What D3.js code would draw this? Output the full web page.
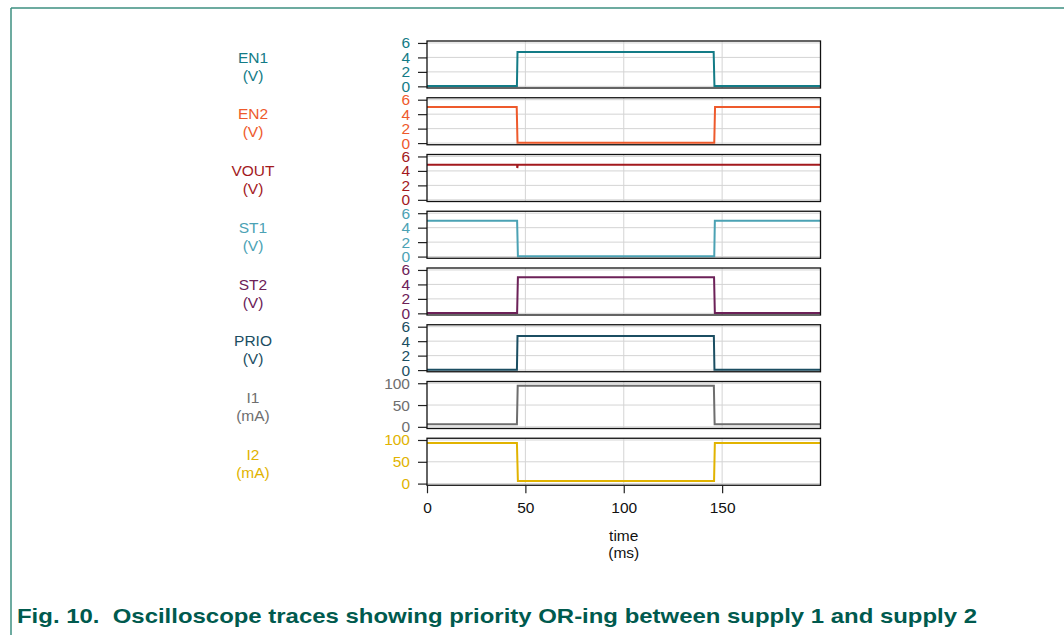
<!DOCTYPE html>
<html>
<head>
<meta charset="utf-8">
<script src="https://cdn.jsdelivr.net/npm/d3@7"></script>
<style>
  body { margin: 0; background: #fff; }
  text { font-family: "Liberation Sans", Arial, sans-serif; }
</style>
</head>
<body>
<div id="chart-area"></div>
<script>
// channel names, units, colours
const names = ["EN1", "EN2", "VOUT", "ST1", "ST2", "PRIO", "I1", "I2"];
const units = ["(V)", "(V)", "(V)", "(V)", "(V)", "(V)", "(mA)", "(mA)"];
const colors = ["#137b86", "#ee5a2c", "#a3191d", "#4ba2b4", "#6c2158", "#1b4e62", "#6e6e6e", "#e1b300"];

// time ticks (ms)
const timeTicks = [0, 50, 100, 150];
const voltTicks = [0, 2, 4, 6];
const ampTicks = [0, 50, 100];

// traces: [time ms, value]
const en1 = [[0, 0.05], [45.7, 0.05], [46.0, 4.75], [145.7, 4.75], [146.1, 0.05], [200, 0.05]];
const en2 = [[0, 5.0], [45.6, 5.0], [46.0, 0.05], [146.0, 0.05], [146.4, 5.0], [200, 5.0]];
const vout = [[0, 4.85], [45.8, 4.85], [45.9, 4.4], [46.1, 4.85], [200, 4.85]];
const st1 = [[0, 4.95], [45.8, 4.95], [46.2, 0.05], [146.0, 0.05], [146.3, 4.95], [200, 4.95]];
const st2 = [[0, 0.05], [45.8, 0.05], [46.2, 4.98], [145.9, 4.98], [146.3, 0.05], [200, 0.05]];
const prio = [[0, 0.05], [45.7, 0.05], [46.0, 4.7], [145.8, 4.7], [146.1, 0.05], [200, 0.05]];
const i1 = [[0, 6], [45.7, 6], [46.1, 94], [145.8, 94], [146.2, 6], [200, 6]];
const i2 = [[0, 93], [45.7, 93], [46.2, 6], [145.9, 6], [146.3, 93], [200, 93]];

const traces = [en1, en2, vout, st1, st2, prio, i1, i2];

const W = 1064, H = 635;
const plotLeft = 427, plotRight = 820.5;
const panelTop = 41, panelStep = 56.75, panelH = 47;
const fs = "15.5px";

const svg = d3.select("#chart-area").append("svg")
  .attr("width", W)
  .attr("height", H);

// frame lines
svg.append("line")
  .attr("x1", 11).attr("x2", W).attr("y1", 8).attr("y2", 8)
  .attr("stroke", "#3d8f80").attr("stroke-width", 1.5);
svg.append("line")
  .attr("x1", 11).attr("x2", 11).attr("y1", 8).attr("y2", H)
  .attr("stroke", "#3d8f80").attr("stroke-width", 1.5);

const x = d3.scaleLinear()
  .domain([0, 200])
  .range([plotLeft, plotRight]);

traces.forEach((data, i) => {
  const top = panelTop + i * panelStep;
  const isAmp = i >= 6;
  const ticks = isAmp ? ampTicks : voltTicks;
  const y = d3.scaleLinear()
    .domain(isAmp ? [-3.8, 104] : [-0.23, 6.27])
    .range([top + panelH, top]);

  const g = svg.append("g");

  // grid
  g.selectAll(".hgrid").data(ticks).enter().append("line")
    .attr("x1", plotLeft).attr("x2", plotRight)
    .attr("y1", d => y(d)).attr("y2", d => y(d))
    .attr("stroke", "#d4d4d4").attr("stroke-width", 1);
  g.selectAll(".vgrid").data(timeTicks.slice(1)).enter().append("line")
    .attr("x1", d => x(d)).attr("x2", d => x(d))
    .attr("y1", top).attr("y2", top + panelH)
    .attr("stroke", "#d4d4d4").attr("stroke-width", 1);

  // y axis
  const ax = g.append("g")
    .attr("transform", `translate(${plotLeft},0)`)
    .call(d3.axisLeft(y).tickValues(ticks).tickFormat(d3.format("d")).tickSize(9).tickPadding(8));
  ax.select(".domain").remove();
  ax.selectAll(".tick line").attr("stroke", "#222").attr("stroke-width", 1.2);
  ax.selectAll(".tick text")
    .attr("fill", colors[i])
    .attr("font-size", fs)
    .attr("font-family", "Liberation Sans, Arial, sans-serif");

  // trace
  const line = d3.line().x(d => x(d[0])).y(d => y(d[1]));
  g.append("path")
    .datum(data)
    .attr("d", line)
    .attr("fill", "none")
    .attr("stroke", colors[i])
    .attr("stroke-width", 2);

  // box
  g.append("rect")
    .attr("x", plotLeft).attr("y", top)
    .attr("width", plotRight - plotLeft).attr("height", panelH)
    .attr("fill", "none")
    .attr("stroke", "#111").attr("stroke-width", 1.3);

  // channel label
  const cy = top + panelH / 2;
  g.append("text")
    .attr("x", 253).attr("y", cy - 2)
    .attr("text-anchor", "middle")
    .attr("font-size", fs)
    .attr("fill", colors[i])
    .text(names[i]);
  g.append("text")
    .attr("x", 253).attr("y", cy + 16)
    .attr("text-anchor", "middle")
    .attr("font-size", fs)
    .attr("fill", colors[i])
    .text(units[i]);
});

// time axis
const lastBottom = panelTop + 7 * panelStep + panelH;
const xAx = svg.append("g")
  .attr("transform", `translate(0,${lastBottom})`)
  .call(d3.axisBottom(x).tickValues(timeTicks).tickSize(8).tickPadding(9));
xAx.select(".domain").remove();
xAx.selectAll(".tick line").attr("stroke", "#222").attr("stroke-width", 1.2);
xAx.selectAll(".tick text")
  .attr("fill", "#111")
  .attr("font-size", fs)
  .attr("font-family", "Liberation Sans, Arial, sans-serif");

svg.append("text")
  .attr("x", x(100)).attr("y", 541)
  .attr("text-anchor", "middle")
  .attr("font-size", fs)
  .attr("fill", "#111")
  .text("time");
svg.append("text")
  .attr("x", x(100)).attr("y", 558)
  .attr("text-anchor", "middle")
  .attr("font-size", fs)
  .attr("fill", "#111")
  .text("(ms)");

// caption
svg.append("text")
  .attr("x", 17).attr("y", 623)
  .attr("font-size", "21px")
  .attr("font-weight", "bold")
  .attr("fill", "#005a4e")
  .attr("textLength", 960)
  .attr("lengthAdjust", "spacingAndGlyphs")
  .attr("xml:space", "preserve")
  .text("Fig. 10.  Oscilloscope traces showing priority OR-ing between supply 1 and supply 2");
</script>
</body>
</html>
